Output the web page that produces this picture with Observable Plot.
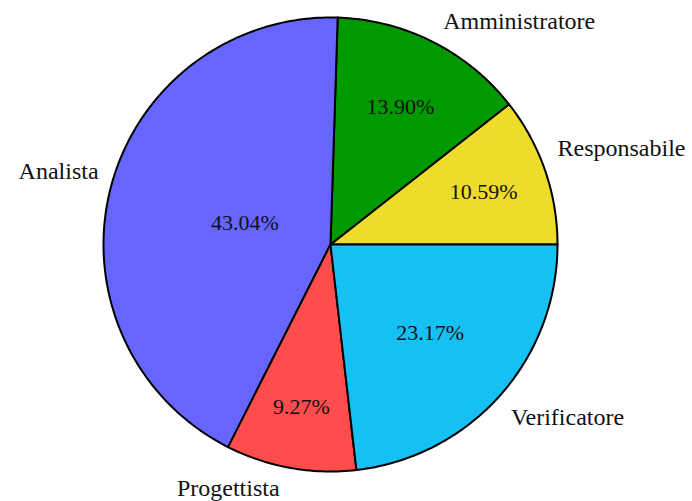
<!DOCTYPE html>
<html>
<head>
<meta charset="utf-8">
<script src="https://cdn.jsdelivr.net/npm/d3@7"></script>
<script src="https://cdn.jsdelivr.net/npm/@observablehq/plot@0.6"></script>
<style>
  html, body { margin: 0; padding: 0; background: #fff; }
</style>
</head>
<body>
<div id="chart"></div>
<script>
const categories = ["Responsabile", "Amministratore", "Analista", "Progettista", "Verificatore"];
const values = [10.59, 13.90, 43.04, 9.27, 23.17];
const colors = ["#eedc2d", "#009900", "#6666ff", "#ff4c4c", "#17c0f2"];

// layout nudges for the outer labels (pixels), in category order
const labelNudgeX = [-9, 0, 10, -7, -6];
const labelNudgeY = [-15, 0, -11, -2, 7];

const total = d3.sum(values);
let acc = 0;
const slices = categories.map((c, i) => {
  const a0 = acc / total * 2 * Math.PI;
  acc += values[i];
  const a1 = acc / total * 2 * Math.PI;
  return {i, cat: c, value: values[i], share: values[i] / total, a0, a1, mid: (a0 + a1) / 2};
});

// polygon points for each slice (counterclockwise from 3 o'clock)
const pts = [];
for (const s of slices) {
  pts.push({cat: s.cat, x: 0, y: 0});
  const n = Math.max(4, Math.ceil((s.a1 - s.a0) / (Math.PI / 180)));
  for (let k = 0; k <= n; k++) {
    const a = s.a0 + (s.a1 - s.a0) * k / n;
    pts.push({cat: s.cat, x: Math.cos(a), y: Math.sin(a)});
  }
  pts.push({cat: s.cat, x: 0, y: 0});
}

const labels = slices.map(s => ({
  cat: s.cat, x: 1.1 * Math.cos(s.mid), y: 1.1 * Math.sin(s.mid),
  anchor: Math.cos(s.mid) >= 0 ? "start" : "end",
  dx: labelNudgeX[s.i], dy: labelNudgeY[s.i]
}));
const pcts = slices.map(s => {
  const r = 0.82 - s.share;
  return {t: s.value.toFixed(2) + "%", x: r * Math.cos(s.mid), y: r * Math.sin(s.mid)};
});

const font = "'Liberation Serif', 'DejaVu Serif', serif";

const labelMarks = labels.map(d =>
  Plot.text([d], {x: "x", y: "y", text: "cat", textAnchor: d.anchor, fontSize: 24, fill: "#111", dx: d.dx, dy: d.dy})
);

const chart = Plot.plot({
  width: 692,
  height: 501,
  marginLeft: 103,
  marginRight: 135,
  marginTop: 17,
  marginBottom: 30,
  x: {domain: [-1, 1], axis: null},
  y: {domain: [-1, 1], axis: null},
  color: {domain: categories, range: colors},
  style: {fontFamily: font, background: "#fff", overflow: "visible"},
  marks: [
    Plot.line(pts, {x: "x", y: "y", z: "cat", fill: "cat", stroke: "black", strokeWidth: 2, strokeLinejoin: "round", curve: "linear"}),
    ...labelMarks,
    Plot.text(pcts, {x: "x", y: "y", text: "t", fontSize: 22, fill: "#111"})
  ]
});
document.getElementById("chart").appendChild(chart);
</script>
</body>
</html>
